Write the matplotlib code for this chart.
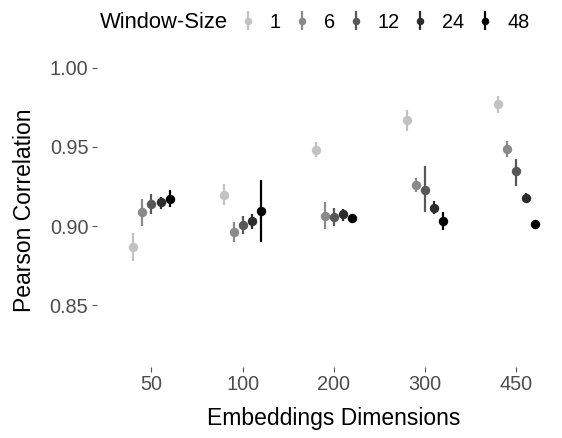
import numpy as np
import matplotlib
matplotlib.use('Agg')
import matplotlib.pyplot as plt

plt.rcParams['font.family'] = ['Liberation Sans', 'DejaVu Sans']

# embedding sizes on the x axis, window sizes as the dodged groups
dims = ['50', '100', '200', '300', '450']
windows = ['1', '6', '12', '24', '48']
colors = ['#c2c2c2', '#8a8a8a', '#585858', '#2c2c2c', '#000000']

# mean correlation per window size (rows) and dimension (columns)
mean_r = {
    '1':  [0.8865, 0.9197, 0.9483, 0.9668, 0.9768],
    '6':  [0.9087, 0.8965, 0.9066, 0.9261, 0.9485],
    '12': [0.9140, 0.9007, 0.9055, 0.9231, 0.9345],
    '24': [0.9150, 0.9030, 0.9077, 0.9115, 0.9178],
    '48': [0.9172, 0.9093, 0.9049, 0.9034, 0.9014],
}
low_r = {
    '1':  [0.8781, 0.9130, 0.9436, 0.9600, 0.9717],
    '6':  [0.9003, 0.8901, 0.8982, 0.9214, 0.9436],
    '12': [0.9077, 0.8950, 0.9003, 0.9087, 0.9256],
    '24': [0.9109, 0.8982, 0.9030, 0.9077, 0.9146],
    '48': [0.9123, 0.8901, 0.9025, 0.8977, 0.8992],
}
high_r = {
    '1':  [0.8954, 0.9263, 0.9530, 0.9736, 0.9821],
    '6':  [0.9172, 0.9024, 0.9150, 0.9305, 0.9535],
    '12': [0.9204, 0.9062, 0.9112, 0.9377, 0.9426],
    '24': [0.9182, 0.9077, 0.9110, 0.9157, 0.9210],
    '48': [0.9225, 0.9288, 0.9073, 0.9087, 0.9039],
}

W, H = 562, 438
fig = plt.figure(figsize=(W / 100, H / 100), dpi=100)
# panel placed in pixel units
left, right, top, bottom = 96.7, 571.2, 53.5, 367.0
ax = fig.add_axes([left / W, (H - bottom) / H, (right - left) / W, (bottom - top) / H])

x = np.arange(1, len(dims) + 1)
dodge = 0.5 / len(windows)
handles = []
for i, w in enumerate(windows):
    xs = x + (i - 2) * dodge
    m = np.array(mean_r[w])
    err = [m - np.array(low_r[w]), np.array(high_r[w]) - m]
    h = ax.errorbar(xs, m, yerr=err, fmt='o', color=colors[i], ms=6.8,
                    elinewidth=1.6, capsize=0, markeredgewidth=0)
    handles.append(h)

ax.set_xlim(0.4, 5.6)
ax.set_ylim(0.811, 1.009)
ax.set_xticks(x)
ax.set_xticklabels(dims)
ax.set_yticks([0.85, 0.90, 0.95, 1.00])
ax.set_yticklabels(['0.85', '0.90', '0.95', '1.00'])
for s in ax.spines.values():
    s.set_visible(False)
ax.tick_params(length=3.5, width=0.8, color='#555555', labelsize=14.3,
               labelcolor='#4d4d4d', pad=2.5)

ax.set_xlabel('Embeddings Dimensions', fontsize=16.5, labelpad=9)
ax.set_ylabel('Pearson Correlation', fontsize=16.5, labelpad=10)

# legend row along the top, title drawn to its left
fig.text(100 / W, (H - 22) / H, 'Window-Size', fontsize=15.8, ha='left', va='center')
fig.legend(handles, windows, loc='center left', bbox_to_anchor=(238 / W, (H - 22) / H),
           ncol=5, frameon=False, fontsize=14.3, borderpad=0, borderaxespad=0,
           handlelength=1.0, handletextpad=0.6, columnspacing=0.55, markerscale=0.8)

fig.savefig('out.png', dpi=100)
